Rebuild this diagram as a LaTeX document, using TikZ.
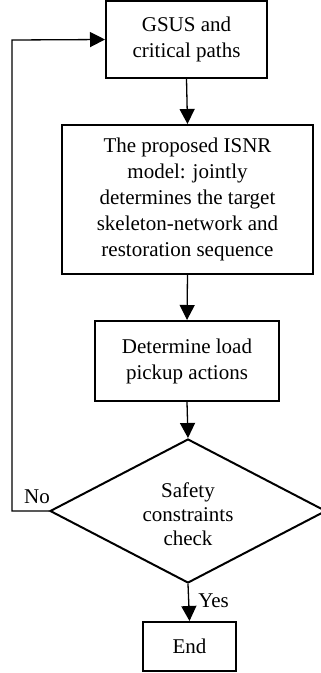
\documentclass[tikz,border=0pt]{standalone}
\usepackage{fontspec}
\setmainfont{Liberation Serif}
\usetikzlibrary{arrows.meta,shapes.geometric}
\begin{document}
\begin{tikzpicture}[x=1pt,y=-1pt,
  every node/.style={font=\fontsize{21}{26}\selectfont, align=center},
  procbox/.style={draw, line width=2pt, inner sep=0pt},
  decbox/.style={draw, line width=2pt, diamond, inner sep=0pt},
  conn/.style={line width=1.3pt, -{Triangle[length=15pt,width=15pt]}},
  lbl/.style={inner sep=0pt}]
\useasboundingbox (0,0) rectangle (321,673);
\clip (0,0) rectangle (321,673);
\node[procbox, minimum width=161pt, minimum height=77pt] (gsus) at (186.5,39.5) {GSUS and\\critical paths};
\node[procbox, minimum width=251pt, minimum height=149pt] (isnr) at (187.5,199.5) {The proposed ISNR\\model: jointly\\determines the target\\skeleton-network and\\restoration sequence};
\node[procbox, minimum width=184pt, minimum height=80pt] (load) at (187,361) {Determine load\\pickup actions};
\node[decbox, minimum width=276pt, minimum height=144pt, aspect=1.9] (safe) at (188,511) {};
\node[lbl, font=\fontsize{21}{24}\selectfont] (safetxt) at (188,514) {Safety\\constraints\\check};
\node[procbox, minimum width=93pt, minimum height=49pt] (endn) at (189.5,646.5) {End};
\coordinate (c1) at (12,511);
\coordinate (c2) at (12,40);
\draw[conn] (gsus.south) -- (isnr.north);
\draw[conn] (isnr.south) -- (load.north);
\draw[conn] (load.south) -- (safe.north);
\draw[conn] (safe.south) -- (endn.north) node[lbl, pos=0.45, right=9pt] (yes) {Yes};
\draw[conn] (safe.west) -- (c1) -- (c2) -- (gsus.west);
\node[lbl] (no) at (37,497) {No};
\end{tikzpicture}
\end{document}
